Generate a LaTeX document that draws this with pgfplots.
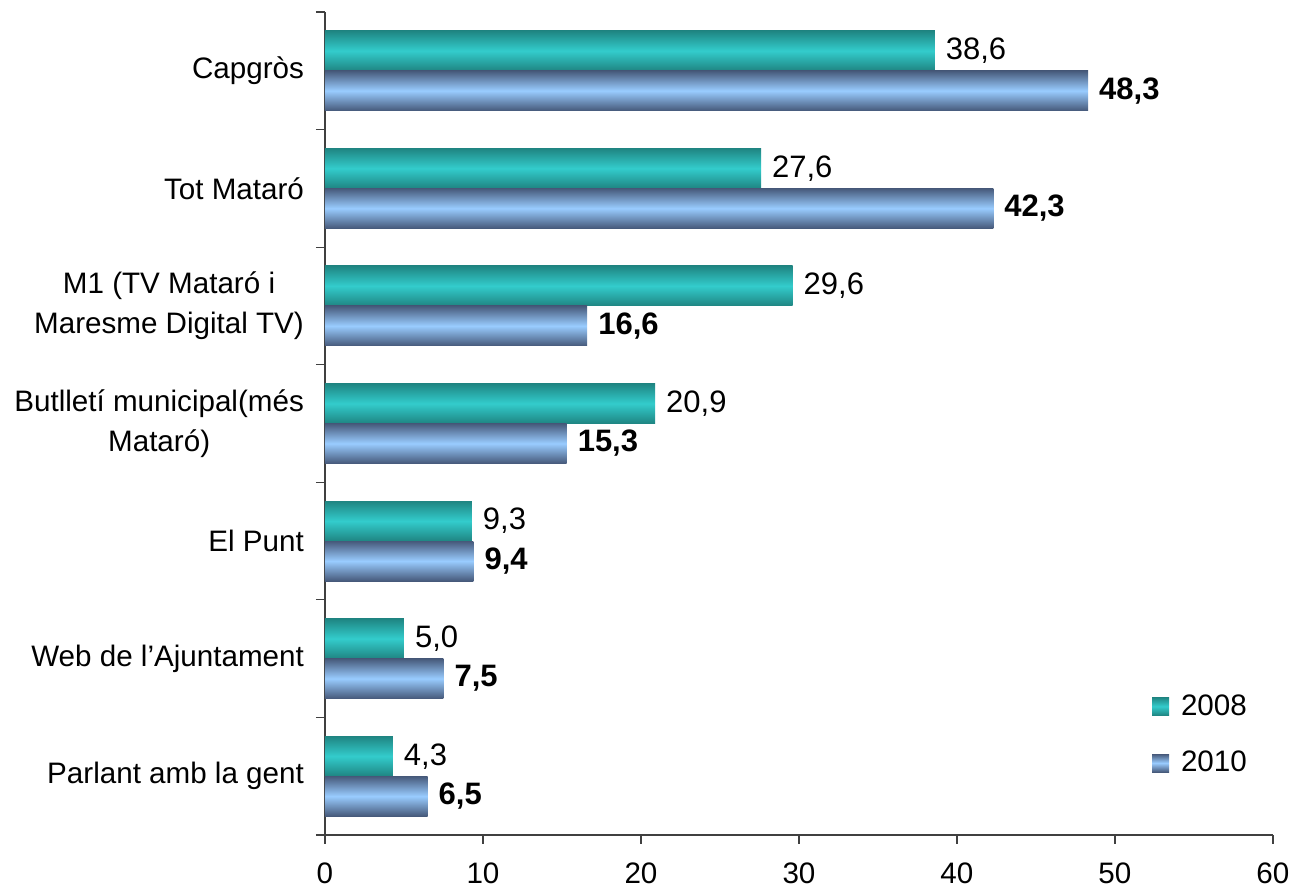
\documentclass[border=0pt]{standalone}
\usepackage{pgfplots}
\pgfplotsset{compat=1.18}
\usepackage{fontspec}
\setmainfont{Liberation Sans}
\definecolor{tealmid}{HTML}{33CCCC}
\definecolor{tealedge}{HTML}{1F8582}
\definecolor{bluemid}{HTML}{99CCFF}
\definecolor{blueedge}{HTML}{46597A}
\definecolor{axisgray}{HTML}{404040}
\newcommand{\lblfont}{\fontsize{14.8}{20}\selectfont}
\newcommand{\valfont}{\fontsize{15.5}{20}\selectfont}
\pgfplotsset{
  bar2008/.style={xbar, bar width=0.34, bar shift=0.17, draw=none,
    top color=tealedge, bottom color=tealedge, middle color=tealmid,
    nodes near coords style={black, font=\valfont, anchor=west, yshift=10pt, xshift=2pt}},
  bar2010/.style={xbar, bar width=0.34, bar shift=-0.17, draw=none,
    top color=blueedge, bottom color=blueedge, middle color=bluemid,
    nodes near coords style={black, font=\valfont\bfseries, anchor=west, yshift=-10pt, xshift=2pt}},
}
\begin{document}
\begin{tikzpicture}
\begin{axis}[
  scale only axis, width=474pt, height=411.5pt,
  xmin=0, xmax=60, ymin=-0.5, ymax=6.5,
  axis x line*=bottom, axis y line*=left,
  axis line style={axisgray, line width=0.6pt},
  every tick/.style={axisgray, line width=0.6pt},
  tick align=outside,
  major tick length=4.5pt,
  xtick={0,10,...,60},
  ytick={-0.5,0.5,...,6.5},
  yticklabels={},
  extra y ticks={0,1,2,3,4,5,6},
  extra y tick labels={Parlant amb la gent, Web de l'Ajuntament, El Punt, {Butlletí municipal(més\\Mataró)}, {M1 (TV Mataró i\\Maresme Digital TV)}, Tot Mataró, Capgròs},
  extra y tick style={major tick length=0pt, yticklabel style={xshift=-7pt}},
  tick label style={font=\lblfont},
  y tick label style={align=center},
  x tick label style={yshift=-6pt},
  /pgf/number format/assume math mode=true,
  clip=false,
  point meta=x,
  legend style={at={(0.872,0.176)}, anchor=north west, draw=none, fill=none,
    font=\lblfont, row sep=12.5pt, inner sep=0pt,
    /tikz/every odd column/.style={column sep=4pt}},
  legend cell align=left,
  legend image code/.code={\path[#1, draw=none] (0pt,-4.5pt) rectangle (8.5pt,4.5pt);},
  nodes near coords={\pgfmathprintnumber[fixed, fixed zerofill, precision=1, use comma, assume math mode=true]{\pgfplotspointmeta}},
]
\addplot[bar2008] coordinates {(38.6,6)};
\addlegendentry{2008}
\addplot[bar2010] coordinates {(48.3,6)};
\addlegendentry{2010}
% 2008
\addplot[bar2008, forget plot] coordinates {(27.6,5)};
\addplot[bar2008, forget plot] coordinates {(29.6,4)};
\addplot[bar2008, forget plot] coordinates {(20.9,3)};
\addplot[bar2008, forget plot] coordinates {(9.3,2)};
\addplot[bar2008, forget plot] coordinates {(5.0,1)};
\addplot[bar2008, forget plot] coordinates {(4.3,0)};
% 2010
\addplot[bar2010, forget plot] coordinates {(42.3,5)};
\addplot[bar2010, forget plot] coordinates {(16.6,4)};
\addplot[bar2010, forget plot] coordinates {(15.3,3)};
\addplot[bar2010, forget plot] coordinates {(9.4,2)};
\addplot[bar2010, forget plot] coordinates {(7.5,1)};
\addplot[bar2010, forget plot] coordinates {(6.5,0)};
\coordinate (bbsw) at (rel axis cs:-0.3428,-0.0680);
\coordinate (bbne) at (rel axis cs:1.0222,1.0146);
\end{axis}
\pgfresetboundingbox
\path (bbsw) rectangle (bbne);
\end{tikzpicture}
\end{document}
